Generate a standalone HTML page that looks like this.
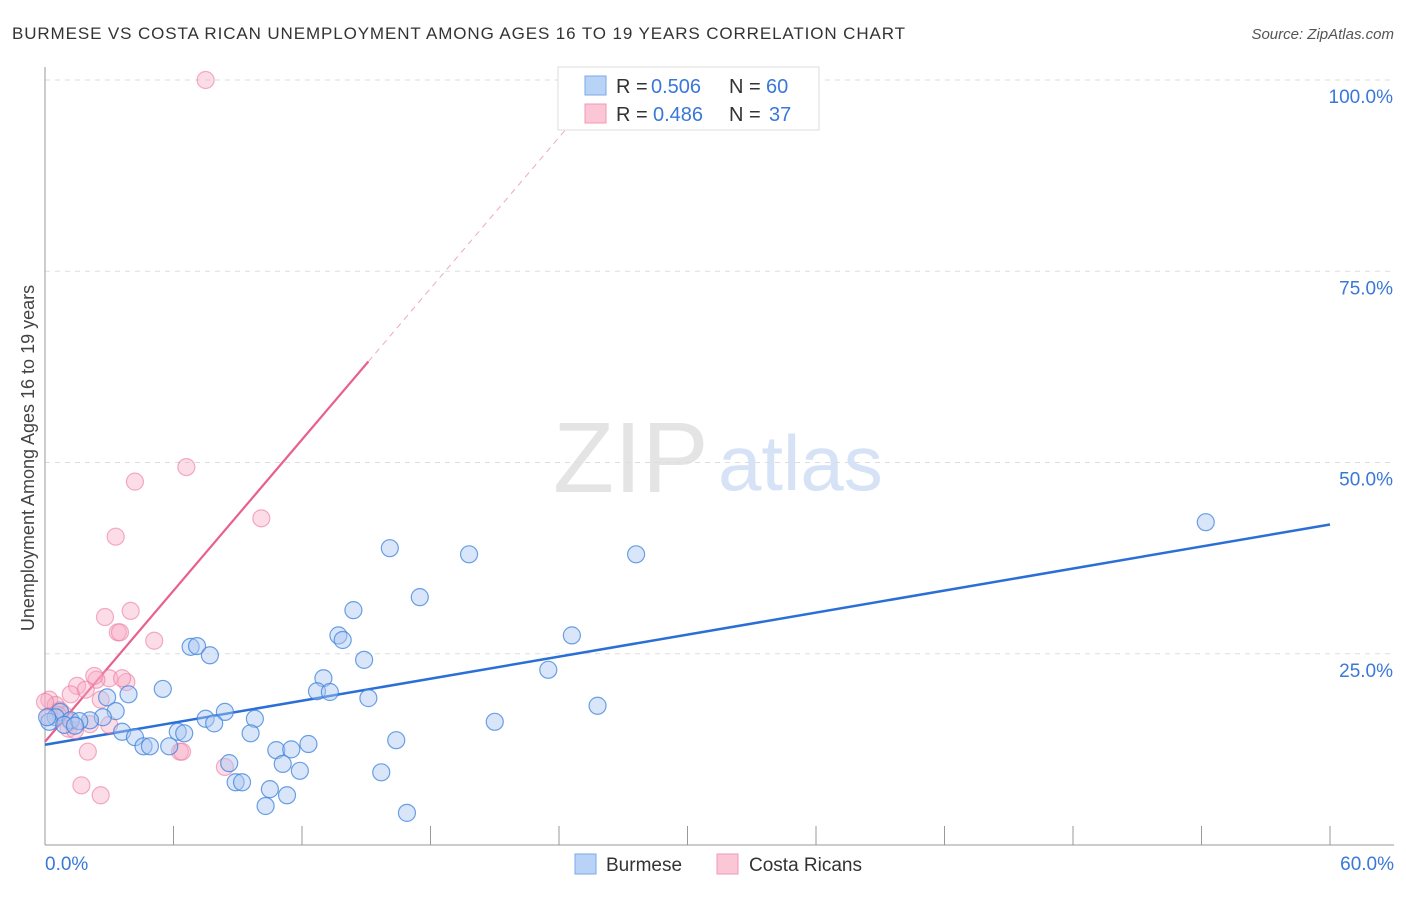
<!DOCTYPE html>
<html><head><meta charset="utf-8"><style>
body{margin:0;background:#fff;font-family:"Liberation Sans",sans-serif;}
svg text{font-family:"Liberation Sans",sans-serif;}
</style></head><body>
<svg id="chart" width="1406" height="892" xmlns="http://www.w3.org/2000/svg">
<text x="12" y="39" font-size="17" fill="#333" textLength="893">BURMESE VS COSTA RICAN UNEMPLOYMENT AMONG AGES 16 TO 19 YEARS CORRELATION CHART</text>
<text x="1394" y="39" font-size="15" fill="#555" text-anchor="end" font-style="italic">Source: ZipAtlas.com</text>
<text transform="translate(34,458) rotate(-90)" font-size="18" fill="#444" text-anchor="middle">Unemployment Among Ages 16 to 19 years</text>
<text x="553" y="492" font-size="100" fill="#e4e4e4" font-family="Liberation Serif">ZIP</text>
<text x="718" y="490" font-size="78" fill="#d6e2f5">atlas</text>
<g id="grid"></g><g id="axes"></g><g id="lines"></g><g id="pts"></g>
<g>
<rect x="558" y="67" width="261" height="63" fill="#fff" stroke="#ddd"/>
<rect x="585" y="76" width="21" height="19" fill="#b9d3f7" stroke="#7aa8e8"/>
<rect x="585" y="104" width="21" height="19" fill="#fbc6d6" stroke="#f099b4"/>
<text y="93" font-size="20" fill="#333"><tspan x="616">R =</tspan><tspan x="651" fill="#3a78d8">0.506</tspan><tspan x="729">N =</tspan><tspan x="766" fill="#3a78d8">60</tspan></text>
<text y="121" font-size="20" fill="#333"><tspan x="616">R =</tspan><tspan x="653" fill="#3a78d8">0.486</tspan><tspan x="729">N =</tspan><tspan x="769" fill="#3a78d8">37</tspan></text>
</g>
<g>
<rect x="575" y="854" width="21" height="20" fill="#b9d3f7" stroke="#7aa8e8"/>
<text x="606" y="871" font-size="19" fill="#333">Burmese</text>
<rect x="717" y="854" width="21" height="20" fill="#fbc6d6" stroke="#f099b4"/>
<text x="749" y="871" font-size="19" fill="#333">Costa Ricans</text>
</g>
</svg>
<script>
const blueX=[54.2,16.1,19.8,27.6,17.5,14.4,24.6,13.7,13.9,6.8,7.1,7.7,14.9,23.5,13.0,5.5,2.9,3.9,15.1,12.7,13.3,25.8,8.4,7.5,9.8,21.0,7.9,3.3,2.7,2.1,3.6,4.2,6.2,6.5,9.6,12.3,5.8,4.6,4.9,10.8,11.5,16.4,8.6,11.1,11.9,15.7,8.9,9.2,10.5,11.3,10.3,16.9,0.7,0.5,1.2,0.2,0.9,1.6,1.4,0.1];
const blueY=[42.2,38.8,38.0,38.0,32.4,30.7,27.4,27.4,26.8,25.9,26.0,24.8,24.2,22.9,21.8,20.4,19.3,19.7,19.2,20.1,20.0,18.2,17.4,16.5,16.5,16.1,15.9,17.5,16.7,16.3,14.8,14.1,14.8,14.6,14.6,13.2,12.9,12.9,12.9,12.4,12.5,13.7,10.7,10.6,9.7,9.5,8.2,8.2,7.3,6.5,5.1,4.2,17.4,16.7,16.3,16.1,15.7,16.2,15.6,16.7];
const pinkX=[7.5,6.6,4.2,10.1,3.3,4.0,2.8,3.4,3.5,5.1,3.0,3.8,2.4,1.5,1.9,1.2,2.6,2.3,3.6,3.0,2.0,1.7,2.6,6.3,6.4,8.4,0.2,0.5,0.7,0.9,1.2,2.1,0.0,1.1,1.4,0.6,0.2];
const pinkY=[100,49.4,47.5,42.7,40.3,30.6,29.8,27.8,27.8,26.7,21.8,21.3,21.6,20.8,20.3,19.7,19.0,22.1,21.8,15.7,12.2,7.8,6.5,12.2,12.2,10.2,19.0,18.3,17.6,17.0,16.1,15.8,18.7,15.2,15.0,17.0,16.8];
const blueFit=[13.1,41.9];
const pinkFit=[13.5,63.2,15.1];
const pinkDashEndX=24.3;
const xTicks=[0,6,12,18,24,30,36,42,48,54,60];
const yTicks=[25,50,75,100];
const X=v=>45+v/60*1285, Y=v=>845-v/100*765;
const NS='http://www.w3.org/2000/svg';
function mk(t,a,p){const e=document.createElementNS(NS,t);for(const k in a)e.setAttribute(k,a[k]);document.getElementById(p).appendChild(e);return e;}
yTicks.forEach(t=>{
 const g=mk('line',{x1:45,x2:1394,y1:Y(t),y2:Y(t),stroke:'#ddd','stroke-dasharray':'5,5'},'grid');
 
 
 const l=mk('text',{x:1393,y:Y(t)+23,'font-size':19,fill:'#3a78d8','text-anchor':'end'},'grid');l.textContent=t.toFixed(1)+'%';
 
 
});
const ax=mk('line',{x1:45,x2:45,y1:67,y2:845,stroke:'#999'},'axes');


const bx=mk('line',{x1:45,x2:1394,y1:845,y2:845,stroke:'#999'},'axes');


xTicks.forEach(t=>{const e=mk('line',{x1:X(t),x2:X(t),y1:826,y2:845,stroke:'#999'},'axes');
 
 });
[[0,'0.0%','start',45],[60,'60.0%','end',1394]].forEach(a=>{const e=mk('text',{x:a[3],y:870,'font-size':19,fill:'#3a78d8','text-anchor':a[2]},'axes');e.textContent=a[1];
 
 });
function pts(xs,ys,fill,stroke,name){xs.forEach((x,i)=>{const c=mk('circle',{cx:X(x),cy:Y(ys[i]),r:8.5,fill:fill,stroke:stroke,'stroke-width':1.2},'pts');
 
 });}
pts(pinkX,pinkY,'rgba(248,170,195,0.4)','rgba(236,120,160,0.6)','costa-rican-point');
pts(blueX,blueY,'rgba(170,200,242,0.45)','rgba(60,130,220,0.75)','burmese-point');
const bl=mk('line',{x1:X(0),y1:Y(blueFit[0]),x2:X(60),y2:Y(blueFit[1]),stroke:'#2a6fd6','stroke-width':2.5},'lines');


const pl=mk('line',{x1:X(0),y1:Y(pinkFit[0]),x2:X(pinkFit[2]),y2:Y(pinkFit[1]),stroke:'#e8608e','stroke-width':2.2},'lines');


const slope=(pinkFit[1]-pinkFit[0])/pinkFit[2];
const pd=mk('line',{x1:X(pinkFit[2]),y1:Y(pinkFit[1]),x2:X(pinkDashEndX),y2:Y(pinkFit[0]+slope*pinkDashEndX),stroke:'#f0a8c0','stroke-width':1,'stroke-dasharray':'6,5'},'lines');


</script>
</body></html>
